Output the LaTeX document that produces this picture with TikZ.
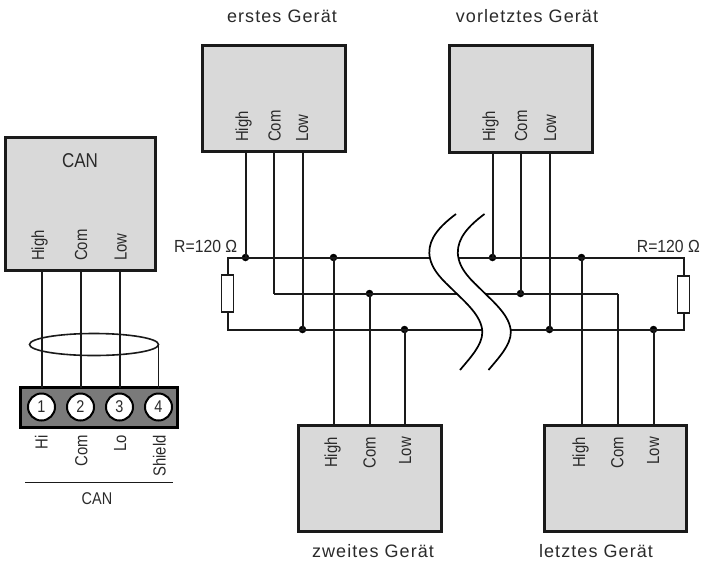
\documentclass[tikz,border=0pt]{standalone}
\usepackage{fontspec}
\usetikzlibrary{shapes.geometric}
\setmainfont{Liberation Sans}
\newfontfamily\lbl[FakeStretch=.85]{Liberation Sans}
\newfontfamily\rlb[FakeStretch=.9]{Liberation Sans}
\newfontfamily\ttl[LetterSpace=6]{Liberation Sans}
\definecolor{boxgray}{HTML}{D9D9D9}
\definecolor{blockgray}{HTML}{7A7A7A}
\definecolor{ink}{HTML}{1A1A1A}
\definecolor{txt}{HTML}{2A2A2A}
\tikzset{
  devbox/.style={draw=ink,fill=boxgray,line width=2.1pt,rectangle,inner sep=0,outer sep=0,anchor=north west},
  wire/.style={draw=ink,line width=2pt},
  junction/.style={circle,fill=black,inner sep=0,outer sep=0,minimum size=7.5pt},
  resbox/.style={draw=ink,fill=white,line width=1.8pt,rectangle,inner sep=0,outer sep=0,minimum width=12pt,minimum height=37pt},
  pinup/.style={rotate=90,anchor=base west,inner sep=0,text=txt,font={\lbl\fontsize{17.5}{17.5}\selectfont}},
  pindown/.style={rotate=90,anchor=base east,inner sep=0,text=txt,font={\lbl\fontsize{17.5}{17.5}\selectfont}},
  title/.style={anchor=base,inner sep=0,text=txt,font={\ttl\fontsize{18}{18}\selectfont}},
  rlabel/.style={anchor=base west,inner sep=0,text=txt,font={\rlb\fontsize{17.5}{17.5}\selectfont}},
  term/.style={circle,draw=black,fill=white,line width=2pt,inner sep=0,outer sep=0,minimum size=27pt,text=txt,font={\lbl\fontsize{17}{17}\selectfont}},
  wave/.style={draw=black,line width=1.7pt}
}
\newcommand{\wavepath}[1]{(456+#1,214) .. controls (440+#1,226) and (429+#1,238) .. (429.3+#1,253) .. controls (430+#1,270) and (445+#1,282) .. (453+#1,290) .. controls (465+#1,302) and (482+#1,316) .. (482.3+#1,332) .. controls (482.5+#1,345) and (470+#1,358) .. (460+#1,370)}
\begin{document}
\begin{tikzpicture}[x=1pt,y=-1pt]
\useasboundingbox (0,0) rectangle (701,563);
% device boxes
\node[devbox,minimum width=143pt,minimum height=106pt] (erstes) at (202.5,45.5) {};
\node[devbox,minimum width=143pt,minimum height=107pt] (vorl) at (449.5,45.5) {};
\node[devbox,minimum width=150pt,minimum height=133pt] (can) at (5.5,137.5) {};
\node[devbox,minimum width=143pt,minimum height=106pt] (zweites) at (298.5,425.5) {};
\node[devbox,minimum width=142pt,minimum height=106pt] (letztes) at (544.5,425.5) {};
% junctions
\node[junction] (e1) at (245.5,257.5) {};
\node[junction] (z1) at (333.5,257.5) {};
\node[junction] (v1) at (492.5,257.5) {};
\node[junction] (l1) at (581.5,257.5) {};
\node[junction] (z2) at (369.5,293.5) {};
\node[junction] (v2) at (520.5,293.5) {};
\node[junction] (e3) at (302.5,329.5) {};
\node[junction] (z3) at (404.5,329.5) {};
\node[junction] (v3) at (549.5,329.5) {};
\node[junction] (l3) at (653.5,329.5) {};
\coordinate (e2) at (273.5,293.5);
\coordinate (l2) at (617.5,293.5);
\coordinate (cHl) at (227.5,257.5);
\coordinate (cLl) at (227.5,329.5);
\coordinate (cHr) at (683.5,257.5);
\coordinate (cLr) at (683.5,329.5);
\node[resbox] (rl) at (227.5,293.5) {};
\node[resbox] (rr) at (683.5,294.5) {};
% bus
\draw[wire] (rl.north) -- (cHl) -- (cHr) -- (rr.north);
\draw[wire] (e2) -- (l2);
\draw[wire] (rl.south) -- (cLl) -- (cLr) -- (rr.south);
% device stubs
\draw[wire] (erstes.south -| e1) -- (e1.center);
\draw[wire] (erstes.south -| e2) -- (e2) ;
\draw[wire] (erstes.south -| e3) -- (e3.center);
\draw[wire] (vorl.south -| v1) -- (v1.center);
\draw[wire] (vorl.south -| v2) -- (v2.center);
\draw[wire] (vorl.south -| v3) -- (v3.center);
\draw[wire] (zweites.north -| z1) -- (z1.center);
\draw[wire] (zweites.north -| z2) -- (z2.center);
\draw[wire] (zweites.north -| z3) -- (z3.center);
\draw[wire] (letztes.north -| l1) -- (l1.center);
\draw[wire] (letztes.north -| l2) -- (l2);
\draw[wire] (letztes.north -| l3) -- (l3.center);
% break
\fill[white] \wavepath{0} -- (488.5,370) .. controls (498.5,358) and (511,345) .. (510.8,332) .. controls (510.5,316) and (493.5,302) .. (481.5,290) .. controls (473.5,282) and (458.5,270) .. (457.8,253) .. controls (457.5,238) and (468.5,226) .. (484.5,214) -- cycle;
\draw[wave] \wavepath{0};
\draw[wave] \wavepath{28.5};
% terminal block
\node[devbox,fill=blockgray,draw=black,minimum width=157pt,minimum height=40pt] (blk) at (20.5,387.5) {};
\node[term] (t1) at (41.5,407) {1};
\node[term] (t2) at (80.5,407) {2};
\node[term] (t3) at (119.5,407) {3};
\node[term] (t4) at (158.5,407) {4};
\node[ellipse,draw=ink,line width=1.6pt,inner sep=0,outer sep=0,minimum width=129pt,minimum height=22pt] (ring) at (94,344.5) {};
\draw[wire] (can.south -| t1) -- (blk.north -| t1);
\draw[wire] (can.south -| t2) -- (blk.north -| t2);
\draw[wire] (can.south -| t3) -- (blk.north -| t3);
\draw[wire,line width=1.6pt] (ring.east) -- (blk.north -| ring.east);
\coordinate (ulA) at (25,482.5);
\coordinate (ulB) at (173,482.5);
\draw[wire,line width=1.8pt] (ulA) -- (ulB);
% texts
\node[title] (tE) at (282,22.7) {erstes Gerät};
\node[title] (tV) at (527,22.7) {vorletztes Gerät};
\node[title] (tZ) at (373,557.7) {zweites Gerät};
\node[title] (tL) at (596,557.7) {letztes Gerät};
\node[anchor=base,inner sep=0,text=txt,font={\lbl\fontsize{20}{20}\selectfont}] (cT) at (80,167.5) {CAN};
\node[anchor=base,inner sep=0,text=txt,font={\lbl\fontsize{17}{17}\selectfont}] (cB) at (97,504) {CAN};
\node[rlabel] (rL) at (174,252) {R=120 Ω};
\node[rlabel] (rR) at (636.7,252) {R=120 Ω};
\foreach \n/\x/\t in {a/248/High,b/280.7/Com,c/308/Low}{\node[pinup] (e\n) at (\x,142) {\t};}
\foreach \n/\x/\t in {a/495/High,b/527/Com,c/556/Low}{\node[pinup] (v\n) at (\x,142) {\t};}
\foreach \n/\x/\t in {a/44/High,b/87/Com,c/126.7/Low}{\node[pinup] (c\n) at (\x,261) {\t};}
\foreach \n/\x/\t in {a/337/High,b/375.7/Com,c/411/Low}{\node[pindown] (z\n) at (\x,437) {\t};}
\foreach \n/\x/\t in {a/585/High,b/623.3/Com,c/659/Low}{\node[pindown] (l\n) at (\x,437) {\t};}
\foreach \n/\x/\t in {a/47.7/Hi,b/87.3/Com,c/126/Lo,d/165.7/Shield}{\node[pindown] (b\n) at (\x,435) {\t};}
\end{tikzpicture}
\end{document}
